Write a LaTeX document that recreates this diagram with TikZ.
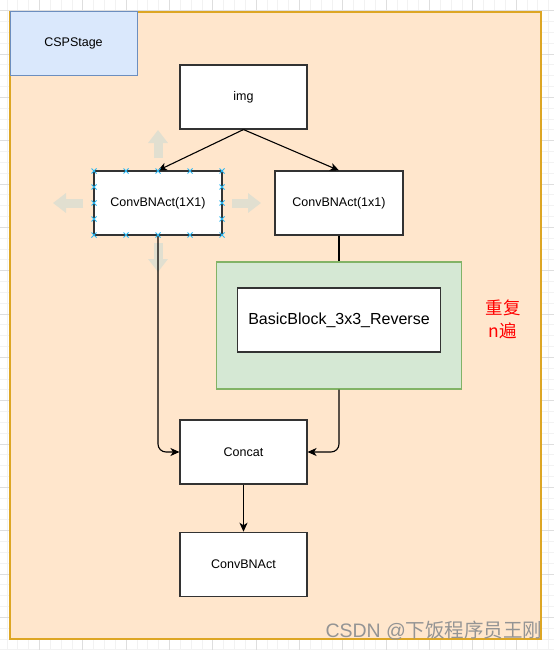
\documentclass[tikz,border=0pt]{standalone}
\usepackage{fontspec}
\setmainfont{Liberation Sans}
\newfontfamily\cjk{Noto Sans CJK SC}
\usetikzlibrary{positioning,arrows.meta,calc}
\definecolor{stagefill}{HTML}{FFE6CC}
\definecolor{stageline}{HTML}{DDA624}
\definecolor{titlefill}{HTML}{DAE8FC}
\definecolor{titleline}{HTML}{6C8EBF}
\definecolor{repfill}{HTML}{D5E8D4}
\definecolor{repline}{HTML}{82B366}
\definecolor{handle}{HTML}{29B6F2}
\definecolor{hint}{HTML}{E1DFD0}

\begin{document}
\begin{tikzpicture}[x=1pt, y=-1pt, >={Stealth[length=9pt,width=8pt,inset=2.5pt]},
  blk/.style={draw=black!80, fill=white, line width=1.1pt, minimum width=127pt, minimum height=64pt, inner sep=0pt, font=\fontsize{12.5}{15}\selectfont},
  wire/.style={line width=1.1pt, black},
  hintarrow/.style={-{Triangle[length=13pt,width=19pt]}, line width=9pt, draw=hint},
  hdl/.style={draw=handle, line width=1pt},
  minor/.style={draw=black!5, line width=0.6pt},
  major/.style={draw=black!13, line width=0.6pt}]
  \useasboundingbox (0,0) rectangle (554,650);
  \foreach \i in {0,...,51} \draw[minor] ({-4+\i*10.833},0) -- ++(0,650);
  \foreach \i in {0,...,60} \draw[minor] (0,{-0.23+\i*10.833}) -- ++(554,0);
  \foreach \i in {0,...,12} \draw[major] ({-4+\i*43.33},0) -- ++(0,650);
  \foreach \i in {0,...,14} \draw[major] (0,{10.6+\i*43.33}) -- ++(554,0);
  \node[draw=stageline, fill=stagefill, line width=1.5pt, minimum width=531pt, minimum height=627pt, inner sep=0pt] (stage) at (275.5,325.5) {};
  \node[blk, draw=titleline, fill=titlefill, line width=1pt] (title) at (73.5,43.7) {CSPStage};
  \node[blk] (img) at (243.5,97) {img};
  \node[blk, minimum width=128pt] (convl) at (158,203) {ConvBNAct(1X1)};
  \node[blk, minimum width=128pt] (convr) at (339,203) {ConvBNAct(1x1)};
  \node[draw=repline, fill=repfill, line width=1.1pt, minimum width=244.5pt, minimum height=127pt] (rep) at (339,325.5) {};
  \node[blk, minimum width=203pt, font=\fontsize{16}{19}\selectfont] (bb) at (339,320) {BasicBlock\_3x3\_Reverse};
  \node[text=red, align=center, font=\cjk\fontsize{17.5}{23}\selectfont] (times) at (503,319) {重复\\n遍};
  \node[blk] (concat) at (243.5,452) {Concat};
  \node[blk] (out) at (243.5,564.3) {ConvBNAct};
  \node[draw=none, fill=none, text=black!42, font=\fontsize{19.5}{23}\selectfont] (mark) at (434,630.5) {CSDN @{\cjk 下饭程序员王刚}};
  \draw[hintarrow] (158,158) -- (158,130);
  \draw[hintarrow] (83,203) -- (53,203);
  \draw[hintarrow] (232,203) -- (261,203);
  \draw[hintarrow] (158,243) -- (158,272);
  \draw[wire, ->] (img.south) -- (convl.north);
  \draw[wire, ->] (img.south) -- (convr.north);
  \draw[wire] (convr.south) -- (rep.north);
  \draw[wire, ->, rounded corners=8pt] (convl.south) |- (concat.west);
  \draw[wire, ->, rounded corners=8pt] (rep.south) |- (concat.east);
  \draw[wire, ->] (concat) -- (out);
  \foreach \hx/\hy in {94/171,126/171,158/171,190/171,222/171,94/235,126/235,158/235,190/235,222/235,94/187,94/203,94/219,222/187,222/203,222/219}
    \draw[hdl] (\hx,\hy) +(-2.5,-2.5) -- +(2.5,2.5) (\hx,\hy) +(-2.5,2.5) -- +(2.5,-2.5);
\end{tikzpicture}
\end{document}
